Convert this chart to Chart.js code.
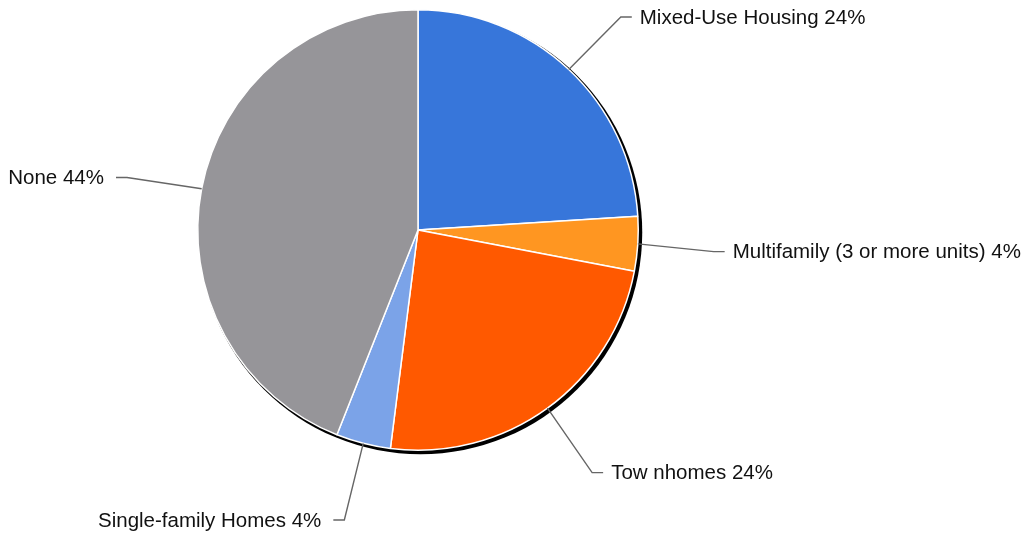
<!DOCTYPE html>
<html>
<head>
<meta charset="utf-8">
<script src="https://cdn.jsdelivr.net/npm/chart.js@4/dist/chart.umd.min.js"></script>
<style>
  body { margin: 0; background: #fff; }
  #wrap { width: 1035px; height: 537px; }
</style>
</head>
<body>
<div id="wrap"><canvas id="pie-chart" width="1035" height="537"></canvas></div>
<script>
    const labels = ["Mixed-Use Housing", "Multifamily (3 or more units)", "Townhomes", "Single-family Homes", "None"];
    const shown = ["Mixed-Use Housing", "Multifamily (3 or more units)", "Tow nhomes", "Single-family Homes", "None"];
    const shares = [24, 4, 24, 4, 44];  // percent
    const colors = ["#3776da", "#ff9621", "#ff5900", "#7ba3e8", "#969599"];

    // black rim / shadow behind the pie
    const shadowPlugin = {
        id: "shadow",
        beforeDatasetsDraw(chart) {
            const arc = chart.getDatasetMeta(0).data[0];
            if (!arc) return;
            const ctx = chart.ctx;
            ctx.save();
            ctx.fillStyle = "#000";
            ctx.beginPath();
            ctx.arc(arc.x + 2.5, arc.y + 2.5, arc.outerRadius + 1.5, 0, Math.PI * 2);
            ctx.fill();
            ctx.restore();
        }
    };

    // leader lines with text labels
    const labelPlugin = {
        id: "leaders",
        afterDatasetsDraw(chart) {
            const ctx = chart.ctx;
            const arcs = chart.getDatasetMeta(0).data;
            ctx.save();
            ctx.font = "20.5px 'Liberation Sans', Arial, sans-serif";
            ctx.textBaseline = "middle";
            arcs.forEach((a, i) => {
                const mid = (a.startAngle + a.endAngle) / 2;
                const r0 = a.outerRadius;
                const r1 = a.outerRadius + 76;
                const x0 = a.x + Math.cos(mid) * r0, y0 = a.y + Math.sin(mid) * r0;
                const x1 = a.x + Math.cos(mid) * r1, y1 = a.y + Math.sin(mid) * r1 + 3;
                const right = Math.cos(mid) >= 0;
                const x2 = x1 + (right ? 11 : -11);
                ctx.strokeStyle = "#666";
                ctx.lineWidth = 1.4;
                ctx.beginPath();
                ctx.moveTo(x0, y0);
                ctx.lineTo(x1, y1);
                ctx.lineTo(x2, y1);
                ctx.stroke();
                ctx.fillStyle = "#111";
                ctx.textAlign = right ? "left" : "right";
                ctx.fillText(shown[i] + " " + shares[i] + "%", x2 + (right ? 8 : -12), y1 + 1);
            });
            ctx.restore();
        }
    };

    new Chart("pie-chart", {
        type: "pie",
        data: {
            labels: labels,
            datasets: [{
                data: shares,
                backgroundColor: colors,
                borderColor: "#fff",
                borderWidth: 1.5
            }]
        },
        options: {
            responsive: false,
            animation: false,
            layout: { padding: { top: 9, bottom: 86, left: 0, right: 199 } },
            plugins: {
                legend: { display: false },
                tooltip: { enabled: false }
            }
        },
        plugins: [shadowPlugin, labelPlugin]
    });
</script>
</body>
</html>
